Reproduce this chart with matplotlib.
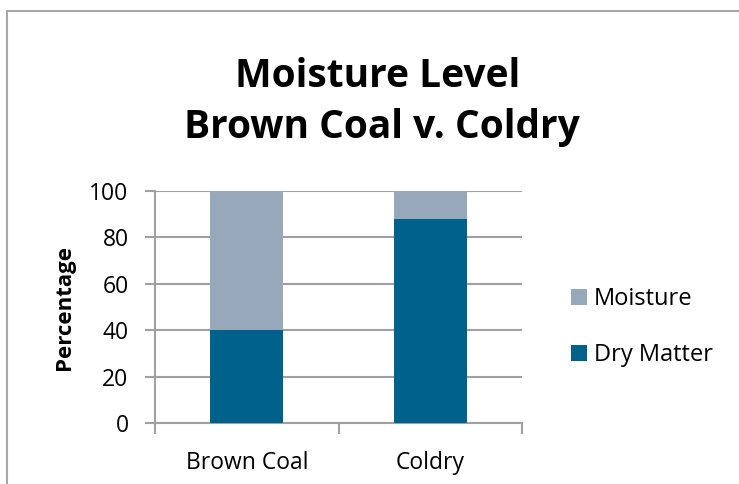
import matplotlib
matplotlib.use("Agg")
import matplotlib.pyplot as plt
from matplotlib.patches import Rectangle
import numpy as np

categories = ["Brown Coal", "Coldry"]
dry_matter = [40, 88]
moisture = [60, 12]
series_names = ["Moisture", "Dry Matter"]
yticks = [0, 20, 40, 60, 80, 100]
title_lines = ["Moisture Level", "Brown Coal v. Coldry"]

W, H = 739, 484
fig = plt.figure(figsize=(W/100, H/100), dpi=100)
plt.rcParams['font.family'] = ['Open Sans', 'DejaVu Sans']

# outer chart border
fig.patches.append(Rectangle((7/W, -0.1), 2, (H-11)/H + 0.1, transform=fig.transFigure,
                             fill=False, edgecolor='#A6A6A6', linewidth=1.5))

ax = fig.add_axes([155/W, 1-423/H, (522-155)/W, (423-191)/H])
x = np.arange(len(categories))
c_dry = '#00628B'
c_moist = '#97A8BA'
ax.bar(x, dry_matter, width=0.4, color=c_dry, label=series_names[1], zorder=3)
ax.bar(x, moisture, width=0.4, bottom=dry_matter, color=c_moist, label=series_names[0], zorder=3)

ax.set_xlim(-0.5, len(categories) - 0.5)
ax.set_ylim(0, 100)
ax.set_yticks(yticks)
ax.set_yticklabels([str(v) for v in yticks], fontsize=16.5)
ax.yaxis.grid(True, color='#A0A0A0', linewidth=1.5, zorder=0)
ax.set_axisbelow(True)

ax.set_xticks(x)
ax.set_xticklabels(categories, fontsize=16.5)
ax.tick_params(axis='x', length=0, pad=20)
ax.set_xticks([-0.5, 0.5, 1.5], minor=True)
ax.tick_params(axis='x', which='minor', length=8, width=1.5, color='#A0A0A0', direction='out')
ax.tick_params(axis='y', length=7, width=1.5, color='#A0A0A0', pad=12)

for s in ['top', 'right']:
    ax.spines[s].set_visible(False)
for s in ['left', 'bottom']:
    ax.spines[s].set_color('#A0A0A0')
    ax.spines[s].set_linewidth(1.5)

ax.set_ylabel('Percentage', fontsize=16, fontweight='bold', labelpad=10)

fig.text(378/W, 1-87/H, title_lines[0], ha='center', va='baseline',
         fontsize=28, fontweight='bold')
fig.text(382/W, 1-138/H, title_lines[1], ha='center', va='baseline',
         fontsize=28, fontweight='bold')

handles, labels = ax.get_legend_handles_labels()
leg = fig.legend(handles[::-1], labels[::-1], loc='center left', bbox_to_anchor=(550/W, 1-327/H),
                 frameon=False, fontsize=17, handlelength=0.65, handleheight=0.65,
                 handletextpad=0.3, labelspacing=1.35)

fig.savefig('out.png', dpi=100)
